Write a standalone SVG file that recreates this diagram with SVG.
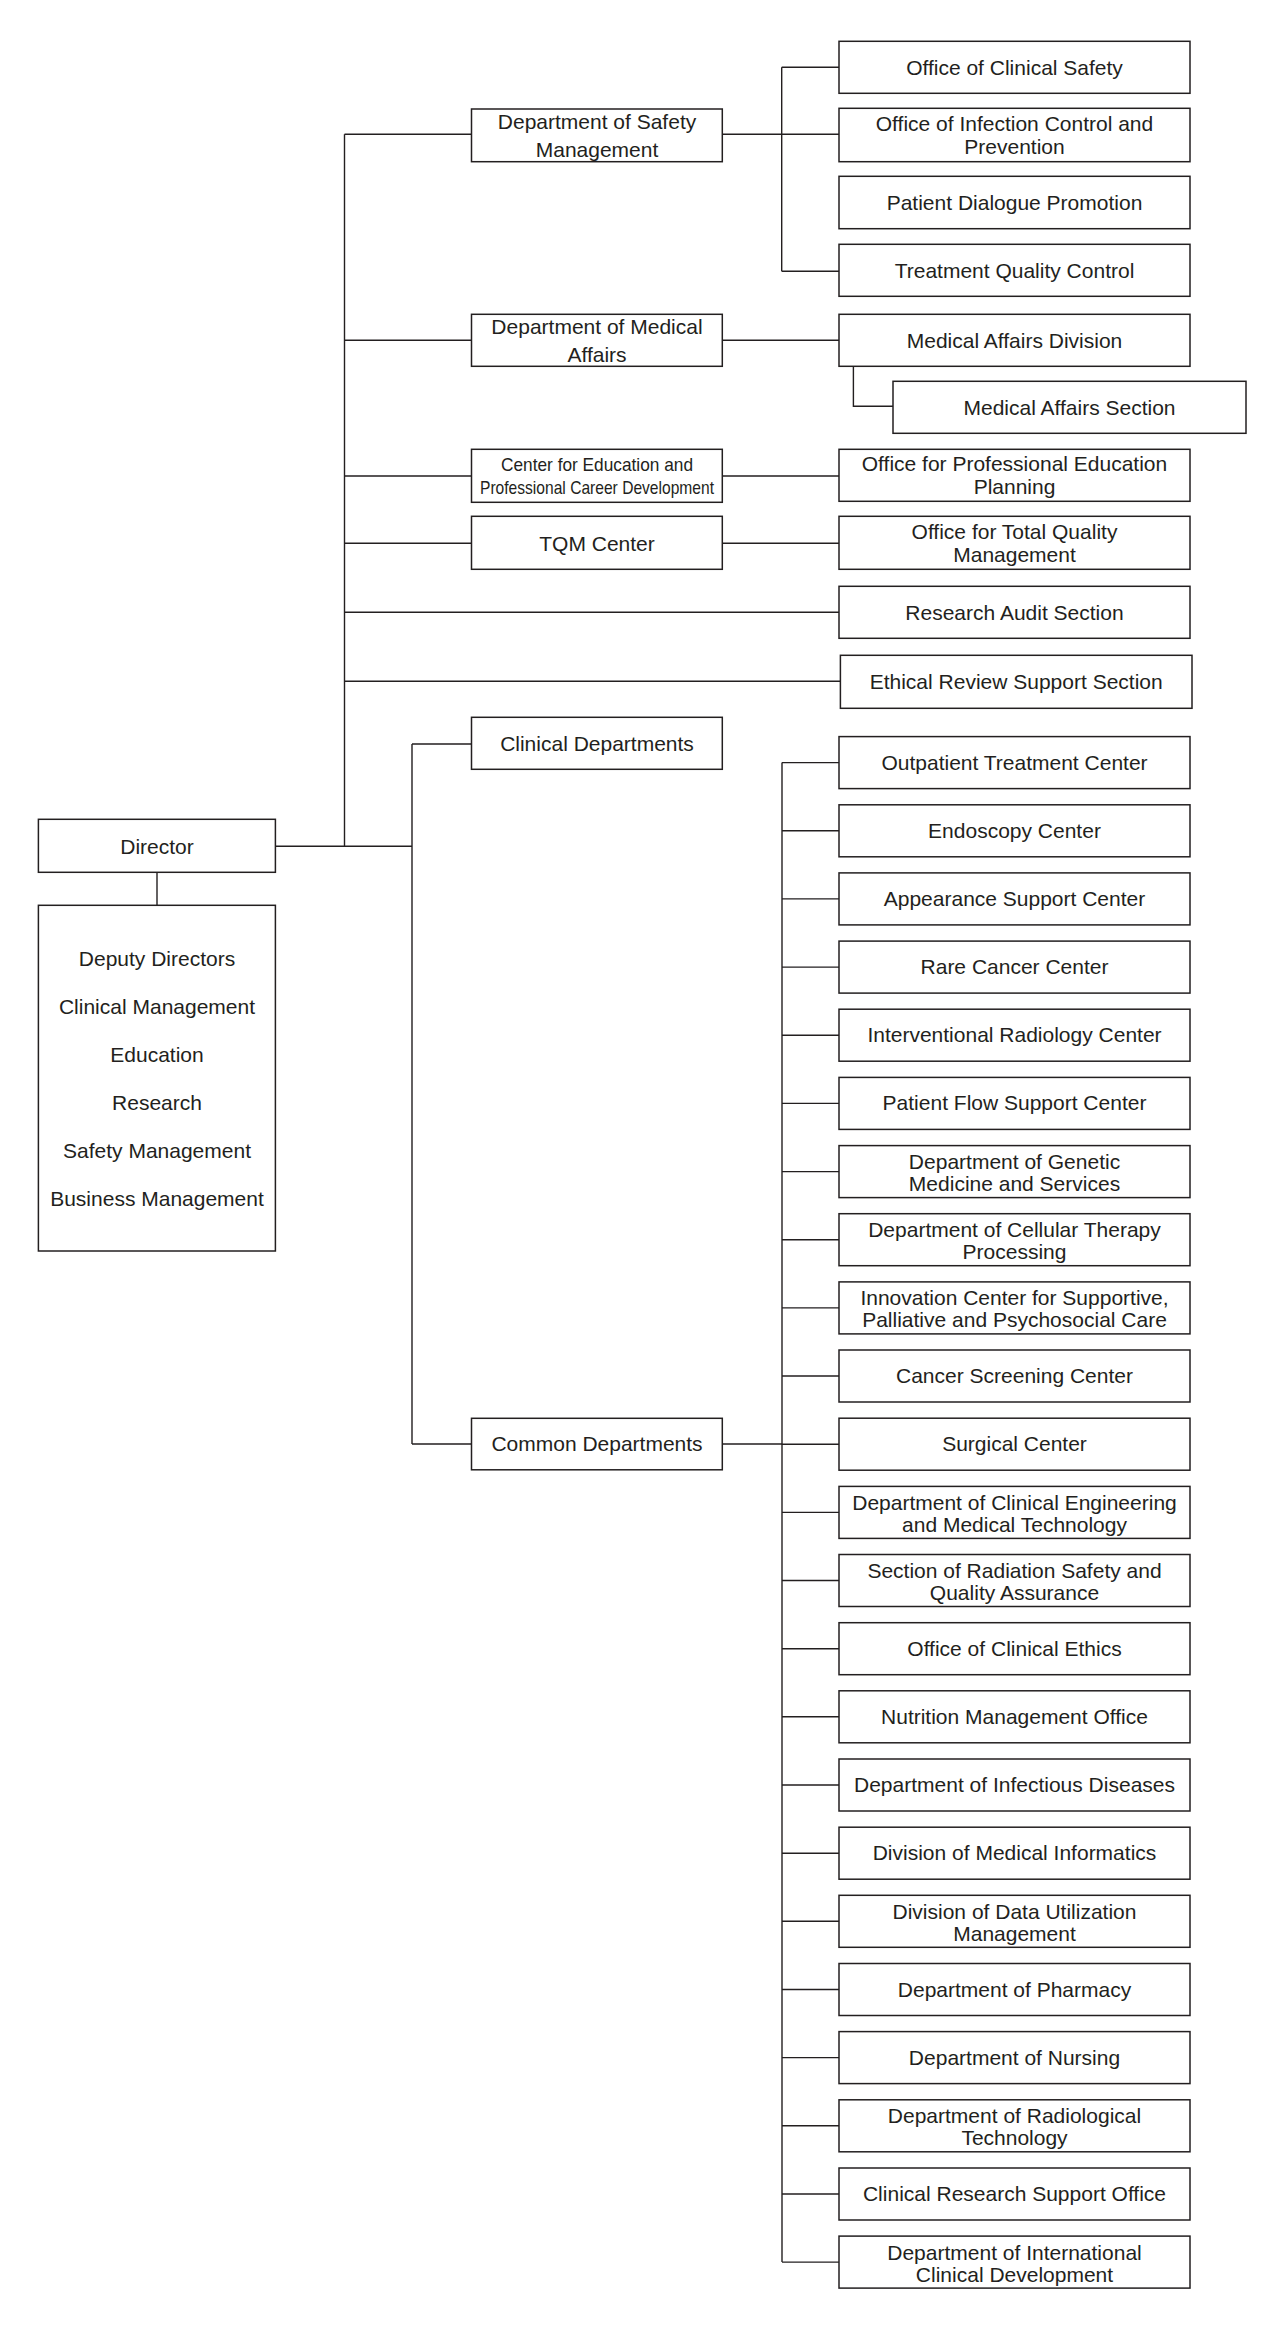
<svg xmlns="http://www.w3.org/2000/svg" width="1277" height="2328" viewBox="0 0 1277 2328">
<style>
.b{fill:#fff;stroke:#231f20;stroke-width:1.5}
.t{font-family:"Liberation Sans",Arial,sans-serif;font-size:21px;fill:#231f20;text-anchor:middle}
.c{fill:none;stroke:#231f20;stroke-width:1.4}
</style>
<rect width="1277" height="2328" fill="#fff"/>
<g id="connectors" class="c">
<path d="M275.4 846.3H412M344.5 134.3V846.3M344.5 134.3H471.5M344.5 340.3H471.5M344.5 476H471.5M344.5 543.3H471.5M344.5 612.3H839M344.5 681.3H840.4"/>
<path d="M722.3 134.3H839M781.7 67.3V271.3M781.7 67.3H839M781.7 271.3H839"/>
<path d="M722.3 340.3H839M853.4 366.3V406.3H893"/>
<path d="M722.3 476H839M722.3 543.3H839"/>
<path d="M157 872.3V905.3"/>
<path d="M412 744V1444M412 744H471.5M412 1444H471.5M722.3 1444H782"/>
<path d="M782 762.6V2262.1"/>
<path d="M782 762.6H839M782 830.8H839M782 898.9H839M782 967.1H839M782 1035.2H839M782 1103.4H839M782 1171.6H839M782 1239.7H839M782 1307.9H839M782 1376H839M782 1444.2H839M782 1512.4H839M782 1580.5H839M782 1648.7H839M782 1716.8H839M782 1785H839M782 1853.2H839M782 1921.3H839M782 1989.5H839M782 2057.6H839M782 2125.8H839M782 2194H839M782 2262.1H839"/>
</g>
<g id="director"><rect class="b" x="38.4" y="819.3" width="237" height="53"/><text class="t" x="157" y="854">Director</text></g>
<g id="deputies"><rect class="b" x="38.4" y="905.3" width="237" height="345.7"/>
<text class="t" x="157" y="966">Deputy Directors</text>
<text class="t" x="157" y="1014">Clinical Management</text>
<text class="t" x="157" y="1062">Education</text>
<text class="t" x="157" y="1110">Research</text>
<text class="t" x="157" y="1158">Safety Management</text>
<text class="t" x="157" y="1205.5">Business Management</text></g>
<g id="dept-safety"><rect class="b" x="471.5" y="109" width="250.8" height="52.7"/><text class="t" x="597" y="129.3">Department of Safety</text><text class="t" x="597" y="156.7">Management</text></g>
<g id="dept-medical"><rect class="b" x="471.5" y="314.3" width="250.8" height="52"/><text class="t" x="597" y="334">Department of Medical</text><text class="t" x="597" y="361.5">Affairs</text></g>
<g id="center-education"><rect class="b" x="471.5" y="449.3" width="250.8" height="53"/><text class="t" x="597" y="471" style="font-size:19px" textLength="192" lengthAdjust="spacingAndGlyphs">Center for Education and</text><text class="t" x="597" y="494.3" style="font-size:19px" textLength="234" lengthAdjust="spacingAndGlyphs">Professional Career Development</text></g>
<g id="tqm-center"><rect class="b" x="471.5" y="516.3" width="250.8" height="53"/><text class="t" x="597" y="550.5">TQM Center</text></g>
<g id="office-clinical-safety"><rect class="b" x="839" y="41.3" width="351" height="52"/><text class="t" x="1014.5" y="74.8">Office of Clinical Safety</text></g>
<g id="office-infection"><rect class="b" x="839" y="108.3" width="351" height="53.4"/><text class="t" x="1014.5" y="131">Office of Infection Control and</text><text class="t" x="1014.5" y="154">Prevention</text></g>
<g id="patient-dialogue"><rect class="b" x="839" y="176.3" width="351" height="52.4"/><text class="t" x="1014.5" y="210">Patient Dialogue Promotion</text></g>
<g id="treatment-quality"><rect class="b" x="839" y="244.3" width="351" height="52"/><text class="t" x="1014.5" y="278.3">Treatment Quality Control</text></g>
<g id="medical-affairs-division"><rect class="b" x="839" y="314.3" width="351" height="52"/><text class="t" x="1014.5" y="347.5">Medical Affairs Division</text></g>
<g id="medical-affairs-section"><rect class="b" x="893" y="381.3" width="353" height="52"/><text class="t" x="1069.5" y="414.5">Medical Affairs Section</text></g>
<g id="office-prof-education"><rect class="b" x="839" y="449.3" width="351" height="52"/><text class="t" x="1014.5" y="470.5">Office for Professional Education</text><text class="t" x="1014.5" y="493.5">Planning</text></g>
<g id="office-tqm"><rect class="b" x="839" y="516.3" width="351" height="53"/><text class="t" x="1014.5" y="538.5">Office for Total Quality</text><text class="t" x="1014.5" y="561.7">Management</text></g>
<g id="research-audit"><rect class="b" x="839" y="586.3" width="351" height="52"/><text class="t" x="1014.5" y="619.5">Research Audit Section</text></g>
<g id="ethical-review"><rect class="b" x="840.4" y="655.3" width="351.6" height="53"/><text class="t" x="1016.2" y="688.5">Ethical Review Support Section</text></g>
<g id="clinical-departments"><rect class="b" x="471.5" y="717.3" width="250.8" height="52"/><text class="t" x="597" y="750.5">Clinical Departments</text></g>
<g id="common-departments"><rect class="b" x="471.5" y="1418.3" width="250.8" height="51.5"/><text class="t" x="597" y="1451.3">Common Departments</text></g>
<g id="c00"><rect class="b" x="839" y="736.6" width="351" height="52"/><text class="t" x="1014.5" y="769.6">Outpatient Treatment Center</text></g>
<g id="c01"><rect class="b" x="839" y="804.8" width="351" height="52"/><text class="t" x="1014.5" y="837.8">Endoscopy Center</text></g>
<g id="c02"><rect class="b" x="839" y="872.9" width="351" height="52"/><text class="t" x="1014.5" y="905.9">Appearance Support Center</text></g>
<g id="c03"><rect class="b" x="839" y="941.1" width="351" height="52"/><text class="t" x="1014.5" y="974.1">Rare Cancer Center</text></g>
<g id="c04"><rect class="b" x="839" y="1009.2" width="351" height="52"/><text class="t" x="1014.5" y="1042.2">Interventional Radiology Center</text></g>
<g id="c05"><rect class="b" x="839" y="1077.4" width="351" height="52"/><text class="t" x="1014.5" y="1110.4">Patient Flow Support Center</text></g>
<g id="c06"><rect class="b" x="839" y="1145.6" width="351" height="52"/><text class="t" x="1014.5" y="1169.1">Department of Genetic</text><text class="t" x="1014.5" y="1191">Medicine and Services</text></g>
<g id="c07"><rect class="b" x="839" y="1213.7" width="351" height="52"/><text class="t" x="1014.5" y="1237.2">Department of Cellular Therapy</text><text class="t" x="1014.5" y="1259.1">Processing</text></g>
<g id="c08"><rect class="b" x="839" y="1281.9" width="351" height="52"/><text class="t" x="1014.5" y="1305.4">Innovation Center for Supportive,</text><text class="t" x="1014.5" y="1327.3">Palliative and Psychosocial Care</text></g>
<g id="c09"><rect class="b" x="839" y="1350" width="351" height="52"/><text class="t" x="1014.5" y="1383">Cancer Screening Center</text></g>
<g id="c10"><rect class="b" x="839" y="1418.2" width="351" height="52"/><text class="t" x="1014.5" y="1451.2">Surgical Center</text></g>
<g id="c11"><rect class="b" x="839" y="1486.4" width="351" height="52"/><text class="t" x="1014.5" y="1509.9">Department of Clinical Engineering</text><text class="t" x="1014.5" y="1531.8">and Medical Technology</text></g>
<g id="c12"><rect class="b" x="839" y="1554.5" width="351" height="52"/><text class="t" x="1014.5" y="1578">Section of Radiation Safety and</text><text class="t" x="1014.5" y="1599.9">Quality Assurance</text></g>
<g id="c13"><rect class="b" x="839" y="1622.7" width="351" height="52"/><text class="t" x="1014.5" y="1655.7">Office of Clinical Ethics</text></g>
<g id="c14"><rect class="b" x="839" y="1690.8" width="351" height="52"/><text class="t" x="1014.5" y="1723.8">Nutrition Management Office</text></g>
<g id="c15"><rect class="b" x="839" y="1759" width="351" height="52"/><text class="t" x="1014.5" y="1792">Department of Infectious Diseases</text></g>
<g id="c16"><rect class="b" x="839" y="1827.2" width="351" height="52"/><text class="t" x="1014.5" y="1860.2">Division of Medical Informatics</text></g>
<g id="c17"><rect class="b" x="839" y="1895.3" width="351" height="52"/><text class="t" x="1014.5" y="1918.8">Division of Data Utilization</text><text class="t" x="1014.5" y="1940.7">Management</text></g>
<g id="c18"><rect class="b" x="839" y="1963.5" width="351" height="52"/><text class="t" x="1014.5" y="1996.5">Department of Pharmacy</text></g>
<g id="c19"><rect class="b" x="839" y="2031.6" width="351" height="52"/><text class="t" x="1014.5" y="2064.6">Department of Nursing</text></g>
<g id="c20"><rect class="b" x="839" y="2099.8" width="351" height="52"/><text class="t" x="1014.5" y="2123.3">Department of Radiological</text><text class="t" x="1014.5" y="2145.2">Technology</text></g>
<g id="c21"><rect class="b" x="839" y="2168" width="351" height="52"/><text class="t" x="1014.5" y="2201">Clinical Research Support Office</text></g>
<g id="c22"><rect class="b" x="839" y="2236.1" width="351" height="52"/><text class="t" x="1014.5" y="2259.6">Department of International</text><text class="t" x="1014.5" y="2281.5">Clinical Development</text></g>
</svg>
